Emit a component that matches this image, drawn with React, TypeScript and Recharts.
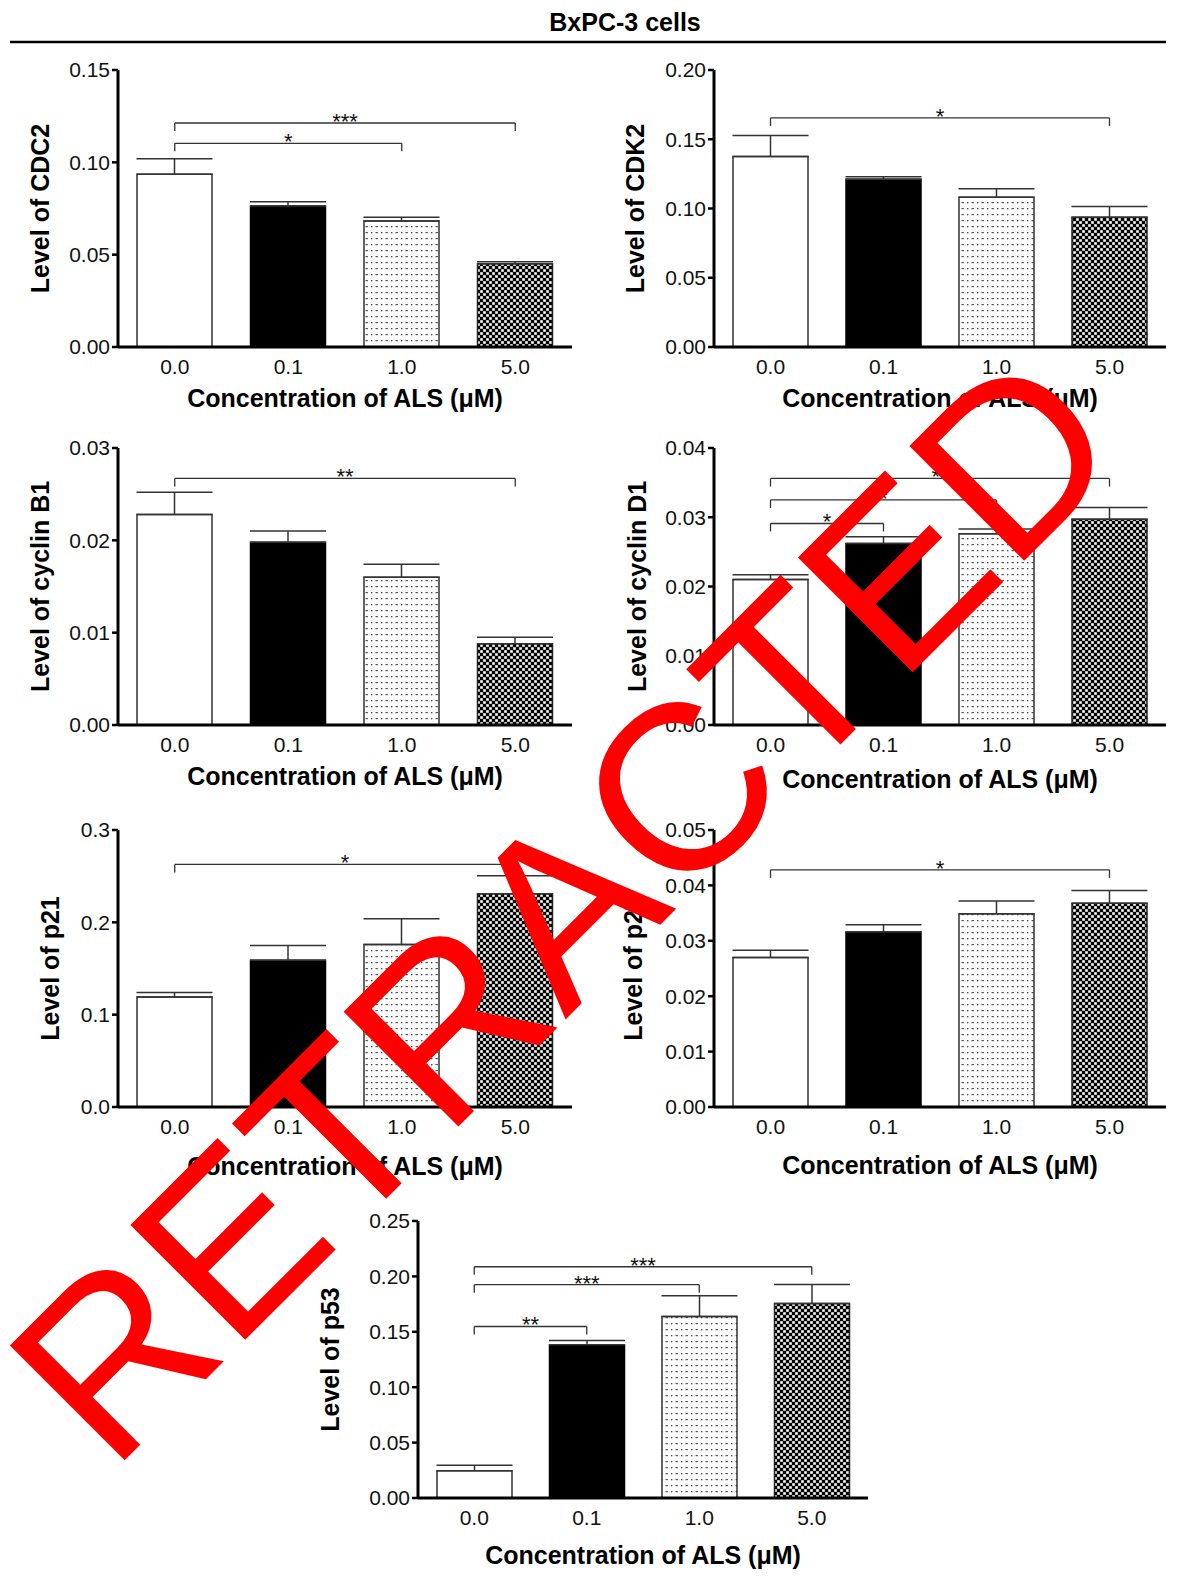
import React from 'react';
import { BarChart, Bar, XAxis, YAxis, Cell, ErrorBar, ReferenceLine } from 'recharts';

// ---------- data ----------
const concentrations = ['0.0', '0.1', '1.0', '5.0'];

const cdc2Values = [0.0935, 0.0763, 0.0682, 0.0451];
const cdc2Errors = [0.0085, 0.0024, 0.002, 0.0011];
const cdc2Ticks = [0, 0.05, 0.1, 0.15];

const cdk2Values = [0.1376, 0.1212, 0.1082, 0.0937];
const cdk2Errors = [0.0151, 0.0018, 0.006, 0.0077];
const cdk2Ticks = [0, 0.05, 0.1, 0.15, 0.2];

const cyclinB1Values = [0.0228, 0.0198, 0.016, 0.0088];
const cyclinB1Errors = [0.0024, 0.0012, 0.0014, 0.0007];
const cyclinB1Ticks = [0, 0.01, 0.02, 0.03];

const cyclinD1Values = [0.021, 0.0262, 0.0276, 0.0297];
const cyclinD1Errors = [0.0007, 0.001, 0.0007, 0.0017];
const cyclinD1Ticks = [0, 0.01, 0.02, 0.03, 0.04];

const p21Values = [0.119, 0.159, 0.176, 0.231];
const p21Errors = [0.005, 0.016, 0.028, 0.0195];
const p21Ticks = [0, 0.1, 0.2, 0.3];

const p27Values = [0.027, 0.0316, 0.0349, 0.0368];
const p27Errors = [0.0013, 0.0013, 0.0023, 0.0023];
const p27Ticks = [0, 0.01, 0.02, 0.03, 0.04, 0.05];

const p53Values = [0.0246, 0.1382, 0.1637, 0.1755];
const p53Errors = [0.005, 0.004, 0.0188, 0.0173];
const p53Ticks = [0, 0.05, 0.1, 0.15, 0.2, 0.25];

type Bracket = { from: string; to: string; y: number; label: string };

const cdc2Brackets: Bracket[] = [
  { from: '0.0', to: '5.0', y: 0.1213, label: '***' },
  { from: '0.0', to: '1.0', y: 0.1103, label: '*' },
];
const cdk2Brackets: Bracket[] = [{ from: '0.0', to: '5.0', y: 0.1654, label: '*' }];
const cyclinB1Brackets: Bracket[] = [{ from: '0.0', to: '5.0', y: 0.0267, label: '**' }];
const cyclinD1Brackets: Bracket[] = [
  { from: '0.0', to: '5.0', y: 0.0356, label: '**' },
  { from: '0.0', to: '1.0', y: 0.0325, label: '*' },
  { from: '0.0', to: '0.1', y: 0.0291, label: '*' },
];
const p21Brackets: Bracket[] = [{ from: '0.0', to: '5.0', y: 0.2627, label: '*' }];
const p27Brackets: Bracket[] = [{ from: '0.0', to: '5.0', y: 0.0428, label: '*' }];
const p53Brackets: Bracket[] = [
  { from: '0.0', to: '5.0', y: 0.2087, label: '***' },
  { from: '0.0', to: '1.0', y: 0.1925, label: '***' },
  { from: '0.0', to: '0.1', y: 0.1548, label: '**' },
];

const xAxisTitle = 'Concentration of ALS (μM)';
const pageTitle = 'BxPC-3 cells';
const watermark = 'RETRACTED';

// ---------- styles ----------
const FONT = '"Liberation Sans", Arial, Helvetica, sans-serif';
const FILLS = ['#ffffff', '#000000', 'url(#dotFill)', 'url(#checkFill)'];
const STROKES = ['#333333', '#000000', '#333333', '#222222'];
const PLOT_H = 277;
const AXIS_W = 118;
const TOP_M = 50;
const X_H = 75;

type PanelProps = {
  plotLeft: number;
  plotTop: number;
  plotW: number;
  values: number[];
  errors: number[];
  ticks: number[];
  decimals: number;
  yLabel: string;
  brackets: Bracket[];
  yLabelX: number;
  xLabelOffset: number;
};

function Panel(p: PanelProps) {
  const data = concentrations.map((c, i) => ({ conc: c, value: p.values[i], err: [0, p.errors[i]] }));
  const max = p.ticks[p.ticks.length - 1];
  const leg = (max * 8) / PLOT_H;
  const width = AXIS_W + p.plotW + 20;
  const height = TOP_M + PLOT_H + X_H;
  const lineProps = { stroke: '#333333', strokeWidth: 1.3, ifOverflow: 'visible' as const };
  return (
    <div style={{ position: 'absolute', left: p.plotLeft - AXIS_W, top: p.plotTop - TOP_M }}>
      <BarChart width={width} height={height} data={data} margin={{ top: TOP_M, right: 20, left: 0, bottom: 0 }}>
        <XAxis
          dataKey="conc"
          type="category"
          height={X_H}
          interval={0}
          axisLine={{ stroke: '#000', strokeWidth: 3 }}
          tickLine={false}
          tickSize={0}
          tickMargin={12}
          tick={{ fill: '#111', fontSize: 21, fontFamily: FONT }}
          label={{
            value: xAxisTitle,
            position: 'insideBottom',
            offset: p.xLabelOffset,
            style: { fontWeight: 'bold', fontSize: 25, fontFamily: FONT, fill: '#000' },
          }}
        />
        <YAxis
          type="number"
          domain={[0, max]}
          ticks={p.ticks}
          interval={0}
          allowDataOverflow
          width={AXIS_W}
          tickFormatter={(v: number) => v.toFixed(p.decimals)}
          axisLine={{ stroke: '#000', strokeWidth: 3 }}
          tickLine={{ stroke: '#000', strokeWidth: 2.5 }}
          tickSize={6}
          tickMargin={2}
          tick={{ fill: '#111', fontSize: 21, fontFamily: FONT }}
          label={{
            value: p.yLabel,
            angle: -90,
            position: 'insideLeft',
            offset: p.yLabelX,
            style: { textAnchor: 'middle', fontWeight: 'bold', fontSize: 25, fontFamily: FONT, fill: '#000' },
          }}
        />
        <Bar dataKey="value" barSize={75} isAnimationActive={false} strokeWidth={1.5}>
          {data.map((d, i) => (
            <Cell key={d.conc} fill={FILLS[i]} stroke={STROKES[i]} />
          ))}
          <ErrorBar dataKey="err" width={38} stroke="#333333" strokeWidth={1.5} direction="y" isAnimationActive={false} />
        </Bar>
        {p.brackets.flatMap((b, i) => [
          <ReferenceLine
            key={`h${i}`}
            segment={[{ x: b.from, y: b.y }, { x: b.to, y: b.y }]}
            {...lineProps}
            label={{ value: b.label, position: 'top', offset: -6, fill: '#111', fontSize: 22, fontFamily: FONT }}
          />,
          <ReferenceLine key={`l${i}`} segment={[{ x: b.from, y: b.y }, { x: b.from, y: b.y - leg }]} {...lineProps} />,
          <ReferenceLine key={`r${i}`} segment={[{ x: b.to, y: b.y }, { x: b.to, y: b.y - leg }]} {...lineProps} />,
        ])}
      </BarChart>
    </div>
  );
}

export default function App() {
  return (
    <div style={{ position: 'absolute', left: 0, top: 0, width: 1188, height: 1594, background: '#fff', overflow: 'hidden' }}>
      <svg width={0} height={0} style={{ position: 'absolute' }}>
        <defs>
          <pattern id="dotFill" patternUnits="userSpaceOnUse" width={10} height={6}>
            <rect x={0} y={0} width={10} height={6} fill="#ffffff" />
            <rect x={1} y={2} width={1.4} height={1.3} fill="#444" />
            <rect x={5.5} y={2} width={2.4} height={1.2} fill="#555" />
          </pattern>
          <pattern id="checkFill" patternUnits="userSpaceOnUse" width={6} height={6}>
            <rect x={0} y={0} width={6} height={6} fill="#000000" />
            <rect x={0.2} y={0.2} width={2.6} height={2.6} fill="#ffffff" />
            <rect x={3.2} y={3.2} width={2.6} height={2.6} fill="#ffffff" />
          </pattern>
        </defs>
      </svg>

      <svg width={1188} height={60} style={{ position: 'absolute', left: 0, top: 0 }}>
        <text x={625} y={31} textAnchor="middle" fontFamily={FONT} fontWeight="bold" fontSize={25} fill="#000">
          {pageTitle}
        </text>
        <line x1={10} x2={1166} y1={42} y2={42} stroke="#000" strokeWidth={2.5} />
      </svg>

      <Panel plotLeft={118} plotTop={70} plotW={454} values={cdc2Values} errors={cdc2Errors} ticks={cdc2Ticks} decimals={2}
        yLabel="Level of CDC2" brackets={cdc2Brackets} yLabelX={40} xLabelOffset={15} />
      <Panel plotLeft={714} plotTop={70} plotW={452} values={cdk2Values} errors={cdk2Errors} ticks={cdk2Ticks} decimals={2}
        yLabel="Level of CDK2" brackets={cdk2Brackets} yLabelX={39} xLabelOffset={15} />
      <Panel plotLeft={118} plotTop={448} plotW={454} values={cyclinB1Values} errors={cyclinB1Errors} ticks={cyclinB1Ticks} decimals={2}
        yLabel="Level of cyclin B1" brackets={cyclinB1Brackets} yLabelX={40} xLabelOffset={15} />
      <Panel plotLeft={714} plotTop={448} plotW={452} values={cyclinD1Values} errors={cyclinD1Errors} ticks={cyclinD1Ticks} decimals={2}
        yLabel="Level of cyclin D1" brackets={cyclinD1Brackets} yLabelX={41} xLabelOffset={12} />
      <Panel plotLeft={118} plotTop={830} plotW={454} values={p21Values} errors={p21Errors} ticks={p21Ticks} decimals={1}
        yLabel="Level of p21" brackets={p21Brackets} yLabelX={50} xLabelOffset={7} />
      <Panel plotLeft={714} plotTop={830} plotW={452} values={p27Values} errors={p27Errors} ticks={p27Ticks} decimals={2}
        yLabel="Level of p27" brackets={p27Brackets} yLabelX={37} xLabelOffset={8} />
      <Panel plotLeft={418} plotTop={1221} plotW={450} values={p53Values} errors={p53Errors} ticks={p53Ticks} decimals={2}
        yLabel="Level of p53" brackets={p53Brackets} yLabelX={30} xLabelOffset={9} />

      <svg width={1188} height={1594} style={{ position: 'absolute', left: 0, top: 0, pointerEvents: 'none', zIndex: 10 }}>
        <text x={621} y={964} transform="rotate(-45 621 964)" textAnchor="middle" fontFamily={FONT} fontSize={236} fill="#ff0000">
          {watermark}
        </text>
      </svg>
    </div>
  );
}
